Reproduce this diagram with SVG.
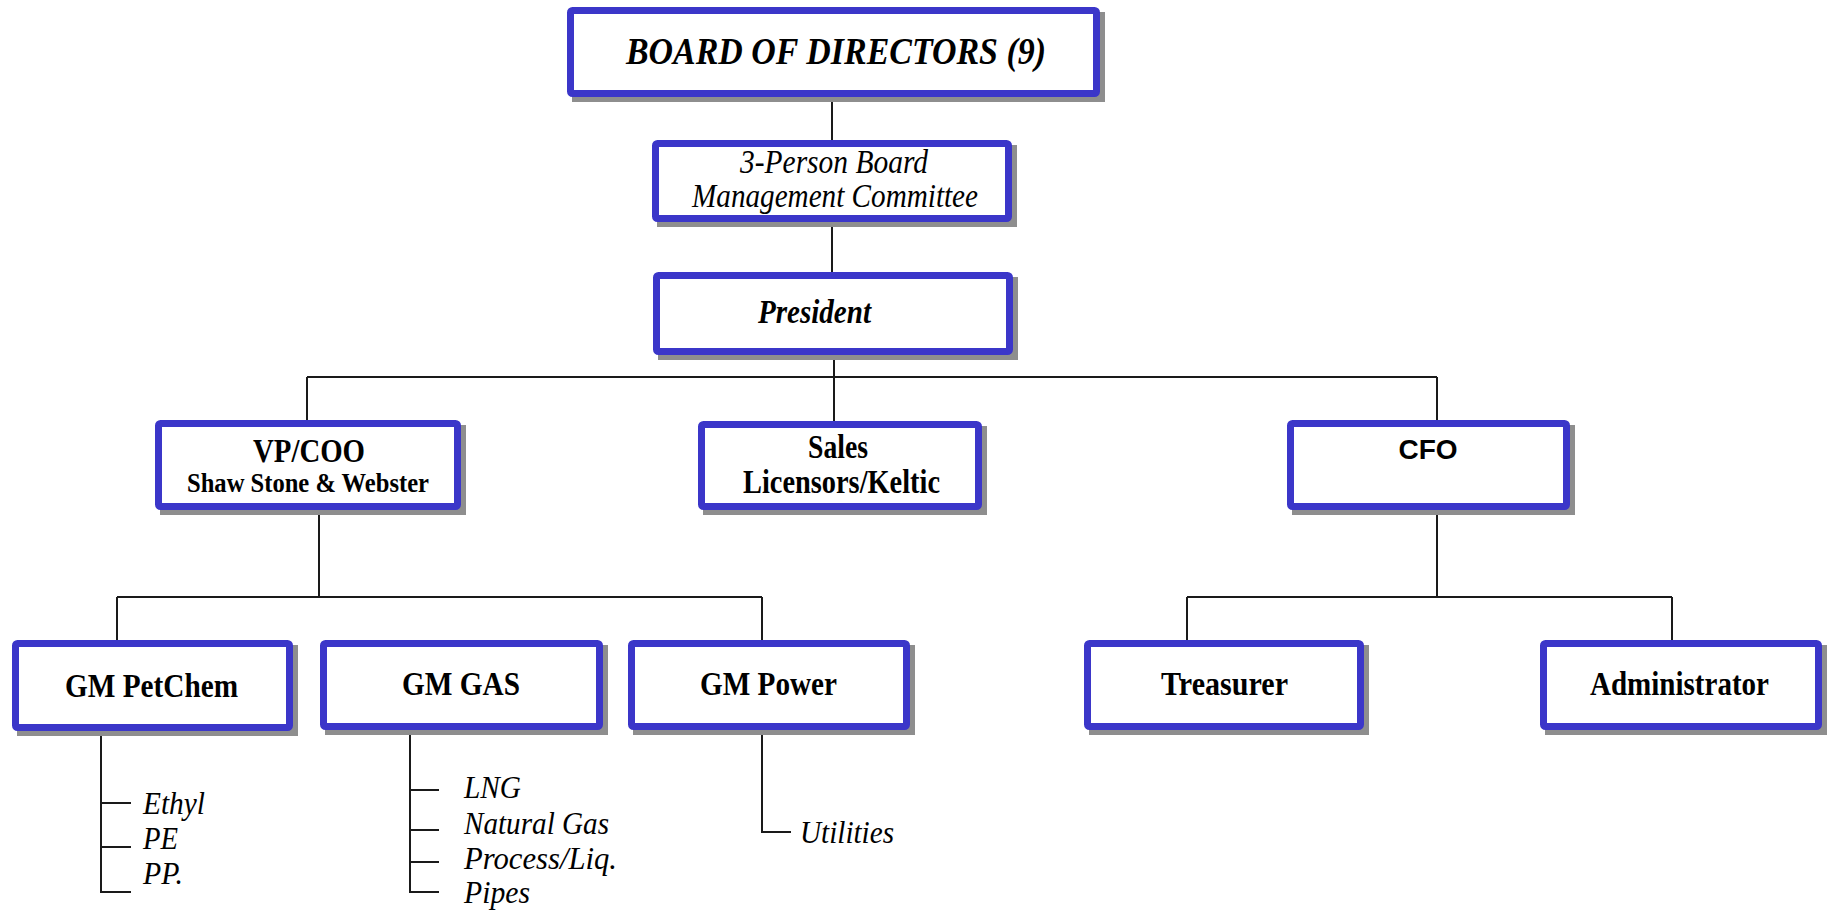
<svg xmlns="http://www.w3.org/2000/svg" width="1828" height="911" viewBox="0 0 1828 911">
<style>
.sh{fill:#8e8e8e}
.bx{fill:#ffffff;stroke:#3b36c9;stroke-width:7}
.ln{fill:none;stroke:#1a1a1a;stroke-width:2}
.t{font-family:"Liberation Serif","Times New Roman",serif;fill:#000}
.b{font-weight:bold}
.i{font-style:italic}
.s{font-family:"Liberation Sans",Arial,sans-serif;font-weight:bold;fill:#000}
</style>
<rect width="1828" height="911" fill="#ffffff"/>
<g id="connectors" class="ln">
<path d="M832 97V143"/>
<path d="M832 222V275"/>
<path d="M834 355V424"/>
<path d="M307 377H1437"/>
<path d="M307 377V423"/>
<path d="M1437 377V423"/>
<path d="M319 510V597"/>
<path d="M117 597H762"/>
<path d="M117 597V643"/>
<path d="M762 597V643"/>
<path d="M1437 510V597"/>
<path d="M1187 597H1672"/>
<path d="M1187 597V643"/>
<path d="M1672 597V643"/>
<path d="M101 731V892H131M101 803H131M101 847H131"/>
<path d="M410 730V892H439M410 790H439M410 830H439M410 862H439"/>
<path d="M762 730V832H791"/>
</g>
<g id="board">
<rect class="sh" x="572" y="12" width="533" height="90"/>
<rect class="bx" x="570.5" y="10.5" width="526" height="83" rx="2"/>
<text class="t b i" x="626" y="64" font-size="38" textLength="420" lengthAdjust="spacingAndGlyphs">BOARD OF DIRECTORS (9)</text>
</g>
<g id="committee">
<rect class="sh" x="657" y="145" width="360" height="82"/>
<rect class="bx" x="655.5" y="143.5" width="353" height="75" rx="2"/>
<text class="t i" x="740" y="173" font-size="33" textLength="188" lengthAdjust="spacingAndGlyphs">3-Person Board</text>
<text class="t i" x="692" y="207" font-size="33" textLength="286" lengthAdjust="spacingAndGlyphs">Management Committee</text>
</g>
<g id="president">
<rect class="sh" x="658" y="277" width="360" height="83"/>
<rect class="bx" x="656.5" y="275.5" width="353" height="76" rx="2"/>
<text class="t b i" x="758" y="323" font-size="33" textLength="113" lengthAdjust="spacingAndGlyphs">President</text>
</g>
<g id="vpcoo">
<rect class="sh" x="160" y="425" width="306" height="90"/>
<rect class="bx" x="158.5" y="423.5" width="299" height="83" rx="2"/>
<text class="t b" x="253" y="462" font-size="33" textLength="112" lengthAdjust="spacingAndGlyphs">VP/COO</text>
<text class="t b" x="187" y="492" font-size="28" textLength="242" lengthAdjust="spacingAndGlyphs">Shaw Stone &amp; Webster</text>
</g>
<g id="sales">
<rect class="sh" x="703" y="426" width="284" height="89"/>
<rect class="bx" x="701.5" y="424.5" width="277" height="82" rx="2"/>
<text class="t b" x="808" y="458" font-size="33" textLength="60" lengthAdjust="spacingAndGlyphs">Sales</text>
<text class="t b" x="743" y="493" font-size="33" textLength="197" lengthAdjust="spacingAndGlyphs">Licensors/Keltic</text>
</g>
<g id="cfo">
<rect class="sh" x="1292" y="425" width="283" height="90"/>
<rect class="bx" x="1290.5" y="423.5" width="276" height="83" rx="2"/>
<text class="s" x="1428" y="459" font-size="28" text-anchor="middle">CFO</text>
</g>
<g id="gm-petchem">
<rect class="sh" x="17" y="645" width="281" height="91"/>
<rect class="bx" x="15.5" y="643.5" width="274" height="84" rx="2"/>
<text class="t b" x="65" y="697" font-size="33" textLength="173" lengthAdjust="spacingAndGlyphs">GM PetChem</text>
</g>
<g id="gm-gas">
<rect class="sh" x="325" y="645" width="283" height="90"/>
<rect class="bx" x="323.5" y="643.5" width="276" height="83" rx="2"/>
<text class="t b" x="402" y="695" font-size="33" textLength="118" lengthAdjust="spacingAndGlyphs">GM GAS</text>
</g>
<g id="gm-power">
<rect class="sh" x="633" y="645" width="282" height="90"/>
<rect class="bx" x="631.5" y="643.5" width="275" height="83" rx="2"/>
<text class="t b" x="700" y="695" font-size="33" textLength="137" lengthAdjust="spacingAndGlyphs">GM Power</text>
</g>
<g id="treasurer">
<rect class="sh" x="1089" y="645" width="280" height="90"/>
<rect class="bx" x="1087.5" y="643.5" width="273" height="83" rx="2"/>
<text class="t b" x="1161" y="695" font-size="33" textLength="127" lengthAdjust="spacingAndGlyphs">Treasurer</text>
</g>
<g id="administrator">
<rect class="sh" x="1545" y="645" width="282" height="90"/>
<rect class="bx" x="1543.5" y="643.5" width="275" height="83" rx="2"/>
<text class="t b" x="1590" y="695" font-size="33" textLength="179" lengthAdjust="spacingAndGlyphs">Administrator</text>
</g>
<g id="petchem-items" class="t i" font-size="32">
<text x="143" y="814" textLength="62" lengthAdjust="spacingAndGlyphs">Ethyl</text>
<text x="143" y="849" textLength="35" lengthAdjust="spacingAndGlyphs">PE</text>
<text x="143" y="884" textLength="40" lengthAdjust="spacingAndGlyphs">PP.</text>
</g>
<g id="gas-items" class="t i" font-size="31">
<text x="464" y="798" textLength="57" lengthAdjust="spacingAndGlyphs">LNG</text>
<text x="464" y="834" textLength="145" lengthAdjust="spacingAndGlyphs">Natural Gas</text>
<text x="464" y="869" textLength="153" lengthAdjust="spacingAndGlyphs">Process/Liq.</text>
<text x="464" y="903" textLength="66" lengthAdjust="spacingAndGlyphs">Pipes</text>
</g>
<g id="power-items" class="t i" font-size="32">
<text x="800" y="843" textLength="94" lengthAdjust="spacingAndGlyphs">Utilities</text>
</g>
</svg>
